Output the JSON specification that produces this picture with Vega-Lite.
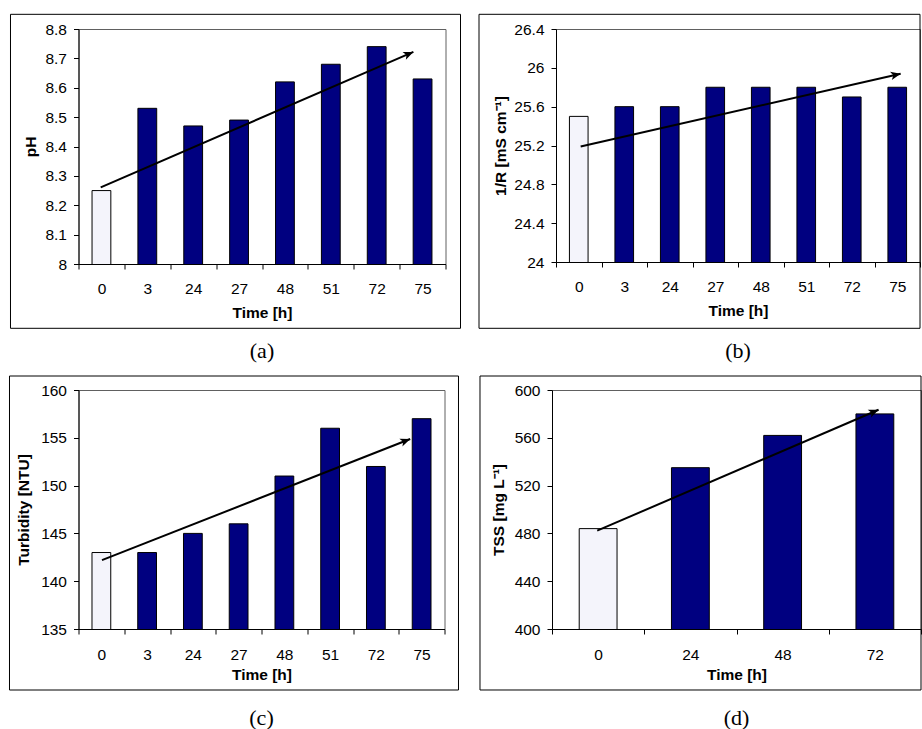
{
  "$schema": "https://vega.github.io/schema/vega-lite/v6.json",
  "padding": {"top": 13, "left": 7.5, "right": 0, "bottom": 0},
  "background": "#ffffff",
  "config": {
    "font": "Liberation Sans",
    "view": {"stroke": "#606060", "strokeWidth": 1},
    "axis": {
      "labelFont": "Liberation Sans", "titleFont": "Liberation Sans",
      "labelFontSize": 15.5, "titleFontSize": 15.5, "titleFontWeight": "bold",
      "labelColor": "#000", "titleColor": "#000", "domainColor": "#000", "tickColor": "#000",
      "tickSize": 5, "grid": false, "labelFlush": false
    },
    "axisX": {"labelAngle": 0, "labelPadding": 12, "titlePadding": 9},
    "axisY": {"labelPadding": 7, "titlePadding": 6}
  },
  "columns": 2,
  "align": "none",
  "spacing": {"row": 12, "column": 15.5},
  "concat": [
        {
          "width": 367, "height": 235,
          "title": {"text": "(a)", "orient": "bottom", "anchor": "middle", "frame": "group", "offset": 12, "font": "Liberation Serif", "fontSize": 22, "fontWeight": "normal", "color": "#000"},
          "resolve": {"scale": {"x": "independent", "y": "independent"}},
          "layer": [
            {
              "data": {"values": [
                {"time": 0, "value": 8.25, "g": "control"},
                {"time": 3, "value": 8.53, "g": "treated"},
                {"time": 24, "value": 8.47, "g": "treated"},
                {"time": 27, "value": 8.49, "g": "treated"},
                {"time": 48, "value": 8.62, "g": "treated"},
                {"time": 51, "value": 8.68, "g": "treated"},
                {"time": 72, "value": 8.74, "g": "treated"},
                {"time": 75, "value": 8.63, "g": "treated"}
              ]},
              "mark": {"type": "bar", "width": {"band": 0.41}, "stroke": "#000", "strokeWidth": 1, "clip": true},
              "encoding": {
                "x": {"field": "time", "type": "ordinal", "scale": {"paddingInner": 0, "paddingOuter": 0}, "axis": {"title": "Time [h]", "tickBand": "extent"}},
                "y": {"field": "value", "type": "quantitative", "scale": {"domain": [8, 8.8], "nice": false, "zero": false}, "axis": {"title": "pH", "values": [8, 8.1, 8.2, 8.3, 8.4, 8.5, 8.6, 8.7, 8.8], "format": ".12~g"}},
                "fill": {"field": "g", "type": "nominal", "scale": {"domain": ["control", "treated"], "range": ["#f4f4fb", "#000080"]}, "legend": null}
              }
            },
            {
              "data": {"values": [{}]},
              "mark": {"type": "rect", "filled": false, "stroke": "#000", "strokeWidth": 1, "clip": false},
              "encoding": {
                "x": {"datum": -1.4823, "type": "quantitative", "scale": {"domain": [0, 8], "nice": false, "zero": false}, "axis": null},
                "x2": {"datum": 8.327},
                "y": {"datum": 7.7811, "type": "quantitative", "scale": {"domain": [8, 8.8], "nice": false, "zero": false}, "axis": null},
                "y2": {"datum": 8.85}
              }
            },
            {
              "data": {"values": [{"x0": 0.484, "y0": 8.261, "x1": 7.3, "y1": 8.722}]},
              "mark": {"type": "rule", "color": "#000", "strokeWidth": 2},
              "encoding": {
                "x": {"field": "x0", "type": "quantitative", "scale": {"domain": [0, 8], "nice": false, "zero": false}, "axis": null},
                "x2": {"field": "x1"},
                "y": {"field": "y0", "type": "quantitative", "scale": {"domain": [8, 8.8], "nice": false, "zero": false}, "axis": null},
                "y2": {"field": "y1"}
              }
            },
            {
              "data": {"values": [{"x0": 0.484, "y0": 8.261, "x1": 7.3, "y1": 8.722}]},
              "mark": {"type": "point", "shape": "M0,0L-1,-0.42L-0.75,0L-1,0.42Z", "filled": true, "color": "#000", "opacity": 1, "size": 400, "angle": 336.6, "strokeWidth": 0},
              "encoding": {
                "x": {"field": "x1", "type": "quantitative", "scale": {"domain": [0, 8], "nice": false, "zero": false}, "axis": null},
                "y": {"field": "y1", "type": "quantitative", "scale": {"domain": [8, 8.8], "nice": false, "zero": false}, "axis": null}
              }
            }
          ]
        },
        {
          "width": 364, "height": 233,
          "title": {"text": "(b)", "orient": "bottom", "anchor": "middle", "frame": "group", "offset": 12, "font": "Liberation Serif", "fontSize": 22, "fontWeight": "normal", "color": "#000"},
          "resolve": {"scale": {"x": "independent", "y": "independent"}},
          "layer": [
            {
              "data": {"values": [
                {"time": 0, "value": 25.5, "g": "control"},
                {"time": 3, "value": 25.6, "g": "treated"},
                {"time": 24, "value": 25.6, "g": "treated"},
                {"time": 27, "value": 25.8, "g": "treated"},
                {"time": 48, "value": 25.8, "g": "treated"},
                {"time": 51, "value": 25.8, "g": "treated"},
                {"time": 72, "value": 25.7, "g": "treated"},
                {"time": 75, "value": 25.8, "g": "treated"}
              ]},
              "mark": {"type": "bar", "width": {"band": 0.41}, "stroke": "#000", "strokeWidth": 1, "clip": true},
              "encoding": {
                "x": {"field": "time", "type": "ordinal", "scale": {"paddingInner": 0, "paddingOuter": 0}, "axis": {"title": "Time [h]", "tickBand": "extent"}},
                "y": {"field": "value", "type": "quantitative", "scale": {"domain": [24, 26.4], "nice": false, "zero": false}, "axis": {"title": "1/R [mS cm⁻¹]", "values": [24, 24.4, 24.8, 25.2, 25.6, 26, 26.4], "format": ".12~g", "titlePadding": 5}},
                "fill": {"field": "g", "type": "nominal", "scale": {"domain": ["control", "treated"], "range": ["#f4f4fb", "#000080"]}, "legend": null}
              }
            },
            {
              "data": {"values": [{}]},
              "mark": {"type": "rect", "filled": false, "stroke": "#000", "strokeWidth": 1, "clip": false},
              "encoding": {
                "x": {"datum": -1.6923, "type": "quantitative", "scale": {"domain": [0, 8], "nice": false, "zero": false}, "axis": null},
                "x2": {"datum": 8},
                "y": {"datum": 23.3171, "type": "quantitative", "scale": {"domain": [24, 26.4], "nice": false, "zero": false}, "axis": null},
                "y2": {"datum": 26.5514}
              }
            },
            {
              "data": {"values": [{"x0": 0.542, "y0": 25.19, "x1": 7.575, "y1": 25.94}]},
              "mark": {"type": "rule", "color": "#000", "strokeWidth": 2},
              "encoding": {
                "x": {"field": "x0", "type": "quantitative", "scale": {"domain": [0, 8], "nice": false, "zero": false}, "axis": null},
                "x2": {"field": "x1"},
                "y": {"field": "y0", "type": "quantitative", "scale": {"domain": [24, 26.4], "nice": false, "zero": false}, "axis": null},
                "y2": {"field": "y1"}
              }
            },
            {
              "data": {"values": [{"x0": 0.542, "y0": 25.19, "x1": 7.575, "y1": 25.94}]},
              "mark": {"type": "point", "shape": "M0,0L-1,-0.42L-0.75,0L-1,0.42Z", "filled": true, "color": "#000", "opacity": 1, "size": 400, "angle": 347.2, "strokeWidth": 0},
              "encoding": {
                "x": {"field": "x1", "type": "quantitative", "scale": {"domain": [0, 8], "nice": false, "zero": false}, "axis": null},
                "y": {"field": "y1", "type": "quantitative", "scale": {"domain": [24, 26.4], "nice": false, "zero": false}, "axis": null}
              }
            }
          ]
        },
        {
          "width": 366, "height": 239,
          "title": {"text": "(c)", "orient": "bottom", "anchor": "middle", "frame": "group", "offset": 17.5, "font": "Liberation Serif", "fontSize": 22, "fontWeight": "normal", "color": "#000"},
          "resolve": {"scale": {"x": "independent", "y": "independent"}},
          "layer": [
            {
              "data": {"values": [
                {"time": 0, "value": 143, "g": "control"},
                {"time": 3, "value": 143, "g": "treated"},
                {"time": 24, "value": 145, "g": "treated"},
                {"time": 27, "value": 146, "g": "treated"},
                {"time": 48, "value": 151, "g": "treated"},
                {"time": 51, "value": 156, "g": "treated"},
                {"time": 72, "value": 152, "g": "treated"},
                {"time": 75, "value": 157, "g": "treated"}
              ]},
              "mark": {"type": "bar", "width": {"band": 0.41}, "stroke": "#000", "strokeWidth": 1, "clip": true},
              "encoding": {
                "x": {"field": "time", "type": "ordinal", "scale": {"paddingInner": 0, "paddingOuter": 0}, "axis": {"title": "Time [h]", "tickBand": "extent", "labelPadding": 13, "titlePadding": 4.5}},
                "y": {"field": "value", "type": "quantitative", "scale": {"domain": [135, 160], "nice": false, "zero": false}, "axis": {"title": "Turbidity [NTU]", "values": [135, 140, 145, 150, 155, 160], "format": ".12~g", "titlePadding": 9}},
                "fill": {"field": "g", "type": "nominal", "scale": {"domain": ["control", "treated"], "range": ["#f4f4fb", "#000080"]}, "legend": null}
              }
            },
            {
              "data": {"values": [{}]},
              "mark": {"type": "rect", "filled": false, "stroke": "#000", "strokeWidth": 1, "clip": false},
              "encoding": {
                "x": {"datum": -1.5082, "type": "quantitative", "scale": {"domain": [0, 8], "nice": false, "zero": false}, "axis": null},
                "x2": {"datum": 8.306},
                "y": {"datum": 128.6192, "type": "quantitative", "scale": {"domain": [135, 160], "nice": false, "zero": false}, "axis": null},
                "y2": {"datum": 161.4644}
              }
            },
            {
              "data": {"values": [{"x0": 0.513, "y0": 142.2, "x1": 7.25, "y1": 154.87}]},
              "mark": {"type": "rule", "color": "#000", "strokeWidth": 2},
              "encoding": {
                "x": {"field": "x0", "type": "quantitative", "scale": {"domain": [0, 8], "nice": false, "zero": false}, "axis": null},
                "x2": {"field": "x1"},
                "y": {"field": "y0", "type": "quantitative", "scale": {"domain": [135, 160], "nice": false, "zero": false}, "axis": null},
                "y2": {"field": "y1"}
              }
            },
            {
              "data": {"values": [{"x0": 0.513, "y0": 142.2, "x1": 7.25, "y1": 154.87}]},
              "mark": {"type": "point", "shape": "M0,0L-1,-0.42L-0.75,0L-1,0.42Z", "filled": true, "color": "#000", "opacity": 1, "size": 400, "angle": 338.55, "strokeWidth": 0},
              "encoding": {
                "x": {"field": "x1", "type": "quantitative", "scale": {"domain": [0, 8], "nice": false, "zero": false}, "axis": null},
                "y": {"field": "y1", "type": "quantitative", "scale": {"domain": [135, 160], "nice": false, "zero": false}, "axis": null}
              }
            }
          ]
        },
        {
          "width": 369, "height": 239,
          "title": {"text": "(d)", "orient": "bottom", "anchor": "middle", "frame": "group", "offset": 17.5, "font": "Liberation Serif", "fontSize": 22, "fontWeight": "normal", "color": "#000"},
          "resolve": {"scale": {"x": "independent", "y": "independent"}},
          "layer": [
            {
              "data": {"values": [
                {"time": 0, "value": 484, "g": "control"},
                {"time": 24, "value": 535, "g": "treated"},
                {"time": 48, "value": 562, "g": "treated"},
                {"time": 72, "value": 580, "g": "treated"}
              ]},
              "mark": {"type": "bar", "width": {"band": 0.41}, "stroke": "#000", "strokeWidth": 1, "clip": true},
              "encoding": {
                "x": {"field": "time", "type": "ordinal", "scale": {"paddingInner": 0, "paddingOuter": 0}, "axis": {"title": "Time [h]", "tickBand": "extent", "labelPadding": 13, "titlePadding": 4.5}},
                "y": {"field": "value", "type": "quantitative", "scale": {"domain": [400, 600], "nice": false, "zero": false}, "axis": {"title": "TSS [mg L⁻¹]", "values": [400, 440, 480, 520, 560, 600], "format": ".12~g", "titlePadding": 8}},
                "fill": {"field": "g", "type": "nominal", "scale": {"domain": ["control", "treated"], "range": ["#f4f4fb", "#000080"]}, "legend": null}
              }
            },
            {
              "data": {"values": [{}]},
              "mark": {"type": "rect", "filled": false, "stroke": "#000", "strokeWidth": 1, "clip": false},
              "encoding": {
                "x": {"datum": -0.7805, "type": "quantitative", "scale": {"domain": [0, 4], "nice": false, "zero": false}, "axis": null},
                "x2": {"datum": 4},
                "y": {"datum": 348.954, "type": "quantitative", "scale": {"domain": [400, 600], "nice": false, "zero": false}, "axis": null},
                "y2": {"datum": 611.715}
              }
            },
            {
              "data": {"values": [{"x0": 0.49, "y0": 482.3, "x1": 3.54, "y1": 583.5}]},
              "mark": {"type": "rule", "color": "#000", "strokeWidth": 2},
              "encoding": {
                "x": {"field": "x0", "type": "quantitative", "scale": {"domain": [0, 4], "nice": false, "zero": false}, "axis": null},
                "x2": {"field": "x1"},
                "y": {"field": "y0", "type": "quantitative", "scale": {"domain": [400, 600], "nice": false, "zero": false}, "axis": null},
                "y2": {"field": "y1"}
              }
            },
            {
              "data": {"values": [{"x0": 0.49, "y0": 482.3, "x1": 3.54, "y1": 583.5}]},
              "mark": {"type": "point", "shape": "M0,0L-1,-0.42L-0.75,0L-1,0.42Z", "filled": true, "color": "#000", "opacity": 1, "size": 400, "angle": 336.75, "strokeWidth": 0},
              "encoding": {
                "x": {"field": "x1", "type": "quantitative", "scale": {"domain": [0, 4], "nice": false, "zero": false}, "axis": null},
                "y": {"field": "y1", "type": "quantitative", "scale": {"domain": [400, 600], "nice": false, "zero": false}, "axis": null}
              }
            }
          ]
        }
  ]
}
